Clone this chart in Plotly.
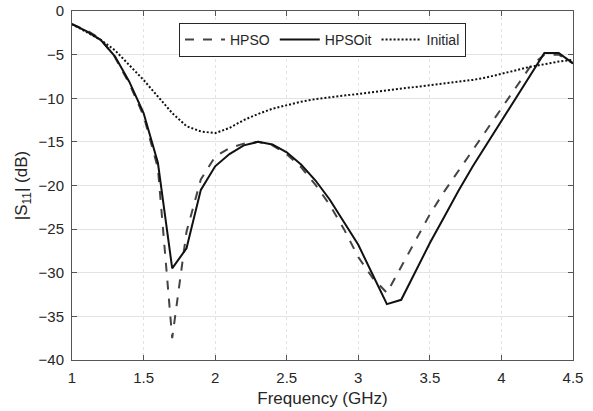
import plotly.graph_objects as go

freq = [1.0, 1.1, 1.2, 1.3, 1.4, 1.5, 1.6, 1.7, 1.8, 1.9, 2.0, 2.1, 2.2, 2.3, 2.4, 2.5,
        2.6, 2.7, 2.8, 2.9, 3.0, 3.1, 3.2, 3.3, 3.4, 3.5, 3.6, 3.7, 3.8, 3.9, 4.0,
        4.1, 4.2, 4.3, 4.4, 4.5]

hpso = [-1.5, -2.2, -3.2, -5.3, -8.3, -12.0, -18.0, -37.5, -25.3, -19.3, -16.7, -15.7,
        -15.2, -15.0, -15.4, -16.4, -17.9, -19.9, -22.2, -25.0, -28.2, -30.6, -32.3,
        -29.3, -26.3, -23.3, -20.7, -18.3, -15.9, -13.5, -11.2, -8.8, -6.4, -5.0,
        -5.0, -6.0]

hpsoit = [-1.5, -2.3, -3.3, -5.2, -8.1, -11.7, -17.4, -29.5, -27.2, -20.5, -17.8,
          -16.4, -15.4, -15.0, -15.3, -16.2, -17.6, -19.4, -21.6, -24.2, -26.8, -30.2,
          -33.6, -33.1, -29.8, -26.6, -23.6, -20.6, -17.8, -15.2, -12.6, -10.0, -7.4,
          -4.8, -4.8, -6.0]

initial = [-1.5, -2.4, -3.3, -4.5, -6.2, -7.9, -9.8, -11.7, -13.2, -13.8, -14.0, -13.4,
           -12.5, -11.8, -11.2, -10.8, -10.4, -10.1, -9.9, -9.7, -9.5, -9.3, -9.1,
           -8.9, -8.7, -8.5, -8.3, -8.1, -7.9, -7.6, -7.2, -6.8, -6.4, -6.1, -5.8, -5.6]

x_ticks = [1, 1.5, 2, 2.5, 3, 3.5, 4, 4.5]
x_labels = ["1", "1.5", "2", "2.5", "3", "3.5", "4", "4.5"]
y_ticks = [0, -5, -10, -15, -20, -25, -30, -35, -40]

fig = go.Figure()
fig.add_trace(go.Scatter(x=freq, y=hpso, mode="lines", name="HPSO",
                         line=dict(color="#444444", width=2, dash="dash")))
fig.add_trace(go.Scatter(x=freq, y=hpsoit, mode="lines", name="HPSOit",
                         line=dict(color="#111111", width=2, dash="solid")))
fig.add_trace(go.Scatter(x=freq, y=initial, mode="lines", name="Initial",
                         line=dict(color="#111111", width=2, dash="2px,2px")))

axis_common = dict(
    showline=True, linecolor="#555555", linewidth=1, mirror="allticks",
    ticks="inside", ticklen=5, tickcolor="#555555",
    gridcolor="#e3e3e3", gridwidth=1, zeroline=False, automargin=False,
    tickfont=dict(family="Liberation Sans, Arial", size=15, color="#262626"),
)

fig.update_layout(
    width=593, height=411,
    margin=dict(l=72, r=20, t=11, b=51, autoexpand=False),
    paper_bgcolor="white", plot_bgcolor="white",
    font=dict(family="Liberation Sans, Arial", size=14, color="#262626"),
    showlegend=True,
    legend=dict(orientation="h", x=0.5, y=0.966, xanchor="center", yanchor="top",
                bordercolor="#262626", borderwidth=1, bgcolor="white",
                font=dict(size=14, color="#262626"), itemwidth=40,
                tracegroupgap=0),
)
fig.update_xaxes(range=[1, 4.5], tickvals=x_ticks, ticktext=x_labels,
                 ticklabelstandoff=4,
                 title=dict(text="Frequency (GHz)", standoff=7,
                            font=dict(size=17, color="#262626")),
                 griddash="dot", **axis_common)
fig.update_yaxes(range=[-40, 0], tickvals=y_ticks, ticklabelstandoff=4,
                 title=dict(text="|S<sub>11</sub>| (dB)", standoff=6,
                            font=dict(size=17, color="#262626")),
                 **axis_common)

fig.write_html("out.html")
